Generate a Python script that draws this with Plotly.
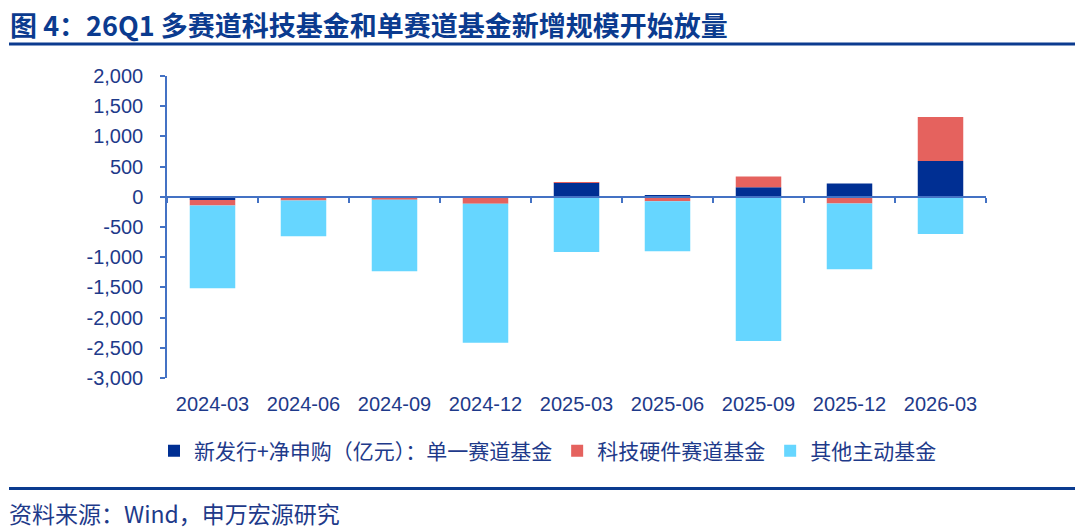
import plotly.graph_objects as go

categories = ["2024-03", "2024-06", "2024-09", "2024-12", "2025-03",
              "2025-06", "2025-09", "2025-12", "2026-03"]
single_track = [-55, -5, -5, -5, 231, 20, 158, 220, 594]
tech_hw = [-90, -55, -45, -110, 10, -72, 177, -110, 726]
other_active = [-1370, -595, -1183, -2300, -914, -830, -2388, -1090, -617]

series_names = ["新发行+净申购（亿元）：单一赛道基金", "科技硬件赛道基金", "其他主动基金"]
series_colors = ["#002F93", "#E5625E", "#66D6FF"]

y_tickvals = [2000, 1500, 1000, 500, 0, -500, -1000, -1500, -2000, -2500, -3000]
y_ticktext = ["2,000", "1,500", "1,000", "500", "0", "-500", "-1,000",
              "-1,500", "-2,000", "-2,500", "-3,000"]

title_text = "图 4：26Q1 多赛道科技基金和单赛道基金新增规模开始放量"
source_text = "资料来源：Wind，申万宏源研究"

FONT = "Liberation Sans, Arial, Noto Sans CJK SC, sans-serif"
CJK = "Noto Sans CJK SC, sans-serif"
AXIS_COLOR = "#4472C4"
NAVY = "#0B3B8F"
TEXT = "#1E3A8A"

fig = go.Figure()
for name, vals, col in zip(series_names, [single_track, tech_hw, other_active], series_colors):
    fig.add_trace(go.Bar(x=categories, y=vals, name=name, marker_color=col,
                         marker_line_width=0))

# invisible trace to carry the zero-line axis with category-boundary ticks
fig.add_trace(go.Scatter(x=categories, y=[0] * len(categories), xaxis="x2",
                         mode="markers", marker=dict(opacity=0), showlegend=False,
                         hoverinfo="skip"))

ymin, ymax = -3000, 2000
zero_pos = (0 - ymin) / (ymax - ymin)

L, R, T, B = 167, 94, 76, 151
PW, PH = 1080 - L - R, 529 - T - B


def px_x(x):
    return (x - L) / PW


def px_y(y):
    return 1 - (y - T) / PH


fig.update_layout(
    width=1080, height=529,
    margin=dict(l=L, r=R, t=T, b=B),
    paper_bgcolor="white", plot_bgcolor="white",
    barmode="relative", bargap=0.5,
    font=dict(family=FONT, size=20, color=TEXT),
    showlegend=True,
    legend=dict(orientation="h", x=px_x(548), xanchor="center", y=px_y(451), yanchor="middle",
                font=dict(size=21, color=TEXT, family=CJK),
                itemwidth=30, traceorder="normal", itemclick=False),
    xaxis=dict(type="category", showline=False, ticks="", showgrid=False,
               zeroline=False, tickfont=dict(size=20, color=TEXT, family=FONT),
               ticklabelstandoff=12, range=[-0.5, 8.5]),
    xaxis2=dict(type="category", overlaying="x", matches="x", anchor="free",
                position=zero_pos, showline=True, linecolor=AXIS_COLOR, linewidth=1.5,
                ticks="outside", tickson="boundaries", ticklen=5, tickwidth=1.5,
                tickcolor=AXIS_COLOR, showticklabels=False, showgrid=False,
                zeroline=False),
    yaxis=dict(range=[ymin, ymax], tickvals=y_tickvals, ticktext=y_ticktext,
               showline=True, linecolor=AXIS_COLOR, linewidth=1.5,
               ticks="outside", ticklen=5, tickwidth=1.5, tickcolor=AXIS_COLOR,
               showgrid=False, zeroline=False,
               tickfont=dict(size=20, color=TEXT, family=FONT),
               ticklabelstandoff=13),
)

# title, rules and source
fig.add_annotation(text="<b>" + title_text + "</b>", xref="paper", yref="paper",
                   x=px_x(8), y=px_y(24), xanchor="left", yanchor="middle",
                   showarrow=False, font=dict(size=27, color=NAVY, family=CJK))
fig.add_shape(type="line", xref="paper", yref="paper",
              x0=px_x(9), x1=px_x(1075), y0=px_y(44), y1=px_y(44),
              line=dict(color=NAVY, width=3))
fig.add_shape(type="line", xref="paper", yref="paper",
              x0=px_x(9), x1=px_x(1075), y0=px_y(488.5), y1=px_y(488.5),
              line=dict(color=NAVY, width=3))
fig.add_annotation(text=source_text, xref="paper", yref="paper",
                   x=px_x(7), y=px_y(513), xanchor="left", yanchor="middle",
                   showarrow=False, font=dict(size=23, color=TEXT, family=CJK))

fig.write_html("out.html")
